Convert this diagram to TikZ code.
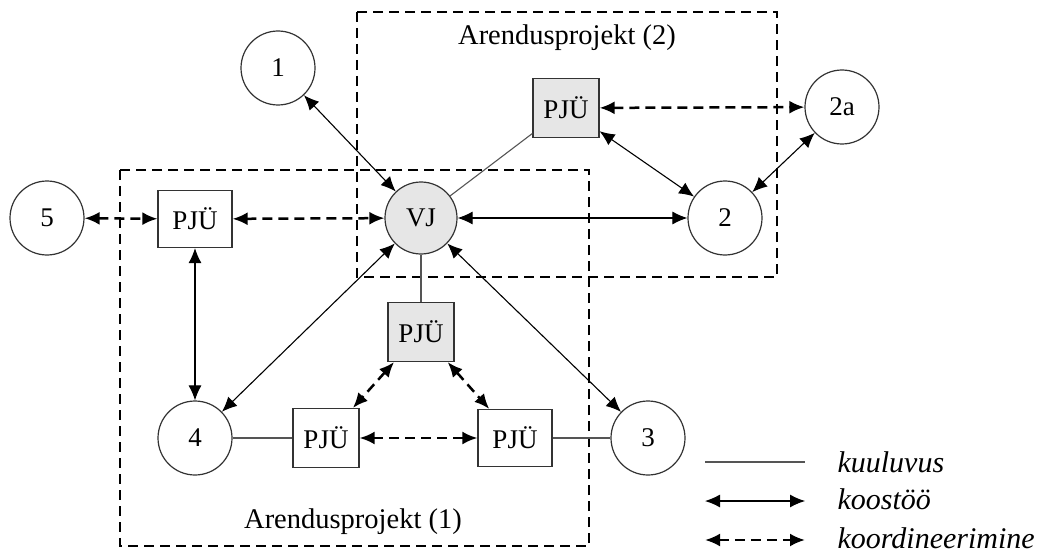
\documentclass[tikz,border=0pt]{standalone}
\usepackage{fontspec}
\setmainfont{Liberation Serif}
\usetikzlibrary{arrows.meta}
\definecolor{nodegray}{HTML}{E6E6E6}
\definecolor{edgeline}{HTML}{333333}
\definecolor{memberline}{HTML}{555555}
\tikzset{biglatex/.tip={Latex[length=15pt,width=13pt]}}
\begin{document}
\begin{tikzpicture}[x=1pt,y=-1pt,
  every node/.style={font=\fontsize{27}{30}\selectfont},
  circ/.style={circle,draw=edgeline,line width=1.2pt,minimum size=74pt,inner sep=0pt,fill=white},
  vjnode/.style={circ,fill=nodegray,minimum size=72pt},
  pjbox/.style={rectangle,draw=edgeline,line width=1.2pt,minimum width=66pt,minimum height=59pt,inner sep=0pt,fill=white},
  pjwide/.style={pjbox,minimum width=74pt,minimum height=57pt},
  pjgray/.style={pjbox,fill=nodegray},
  coop/.style={line width=1.1pt,black,biglatex-biglatex},
  coord/.style={line width=2.5pt,black,dash pattern=on 10pt off 6pt,biglatex-biglatex},
  member/.style={line width=1.1pt,memberline},
  frame/.style={line width=2.4pt,black,dash pattern=on 10pt off 6pt},
  legend/.style={anchor=west,font=\fontsize{30}{32}\selectfont\itshape},
  caption/.style={font=\fontsize{28.5}{32}\selectfont}
]
\useasboundingbox (0,0) rectangle (1050,559);

% project frames
\draw[frame] (120,170) rectangle (589,546);
\draw[frame] (357,12) rectangle (777,277);
\node[caption] (cap2) at (567,38) {Arendusprojekt (2)};
\node[caption] (cap1) at (353,522) {Arendusprojekt (1)};

% nodes
\node[vjnode] (vj) at (421,218) {VJ};
\node[circ] (n1) at (278,68) {1};
\node[circ] (n5) at (47,218) {5};
\node[circ] (n2) at (725,218) {2};
\node[circ] (n2a) at (842,107) {2a};
\node[circ] (n4) at (195,438) {4};
\node[circ] (n3) at (648,438) {3};
\node[pjwide] (pl) at (195,219) {PJÜ};
\node[pjgray] (pt) at (566,108) {PJÜ};
\node[pjgray] (pm) at (421,332) {PJÜ};
\node[pjbox] (pbl) at (326,438) {PJÜ};
\node[pjwide] (pbr) at (515,438) {PJÜ};

% membership lines
\draw[member] (pt) -- (vj);
\draw[member] (vj) -- (pm);
\draw[member] (n4) -- (pbl);
\draw[member] (pbr) -- (n3);

% cooperation
\draw[coop] (n1) -- (vj);
\draw[coop] (vj) -- (n2);
\draw[coop] (pt) -- (n2);
\draw[coop] (n2a) -- (n2);
\draw[coop] (pl) -- (n4);
\draw[coop] (vj) -- (n4);
\draw[coop] (vj) -- (n3);

% coordination
\draw[coord] (n5) -- (pl);
\draw[coord] (pl) -- (vj);
\draw[coord] (pt) -- (n2a);
\draw[coord] (pm) -- (pbl);
\draw[coord] (pm) -- (pbr);
\draw[coord] (pbl) -- (pbr);

% legend
\coordinate (la1) at (705,462);
\coordinate (lb1) at (805,462);
\coordinate (la2) at (705,501);
\coordinate (lb2) at (805,501);
\coordinate (la3) at (705,540);
\coordinate (lb3) at (805,540);
\draw[member] (la1) -- (lb1);
\draw[coop] (la2) -- (lb2);
\draw[coord] (la3) -- (lb3);
\node[legend] (t1) at (834,462) {kuuluvus};
\node[legend] (t2) at (834,499) {koostöö};
\node[legend] (t3) at (834,538) {koordineerimine};
\end{tikzpicture}
\end{document}
